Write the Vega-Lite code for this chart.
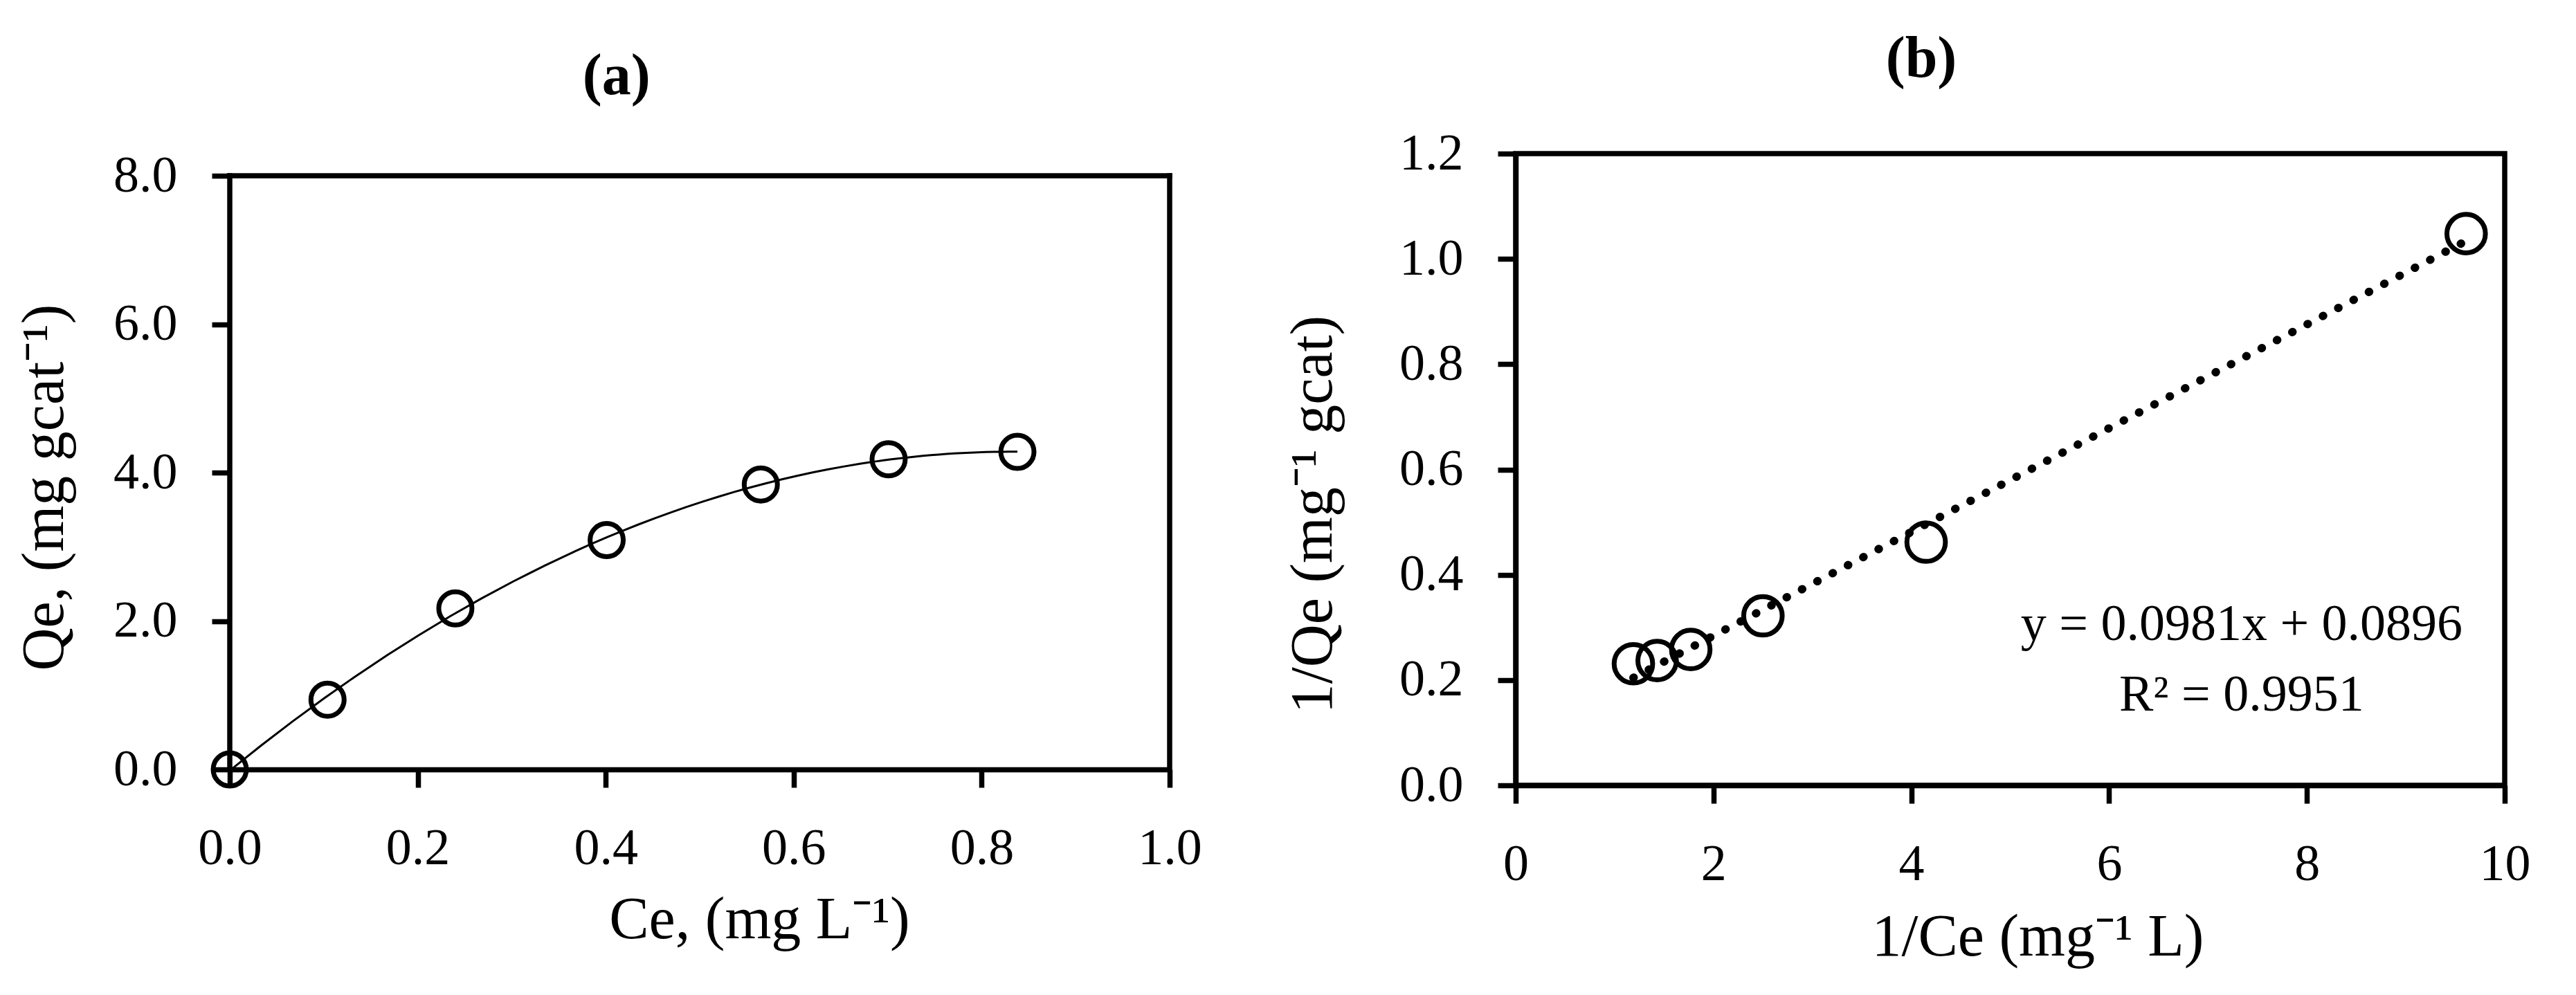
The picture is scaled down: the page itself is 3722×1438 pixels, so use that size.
{
  "$schema": "https://vega.github.io/schema/vega-lite/v6.json",
  "background": "white",
  "padding": {"left": 20, "top": 40, "right": 0, "bottom": 0},
  "columns": 2,
  "align": "none",
  "spacing": 113,
  "config": {
    "font": "Liberation Serif",
    "view": {"stroke": "black", "strokeWidth": 7.5},
    "axis": {
      "domainColor": "black", "domainWidth": 7.5,
      "tickColor": "black", "tickWidth": 7.5, "tickSize": 26,
      "grid": false,
      "labelColor": "black", "labelFont": "Liberation Serif", "labelFontSize": 74, "labelPadding": 52,
      "labelFlush": false, "labelOverlap": false,
      "titleColor": "black", "titleFont": "Liberation Serif", "titleFontSize": 86, "titleFontWeight": "normal"
    },
    "title": {"font": "Liberation Serif", "fontSize": 84, "fontWeight": "bold", "color": "black", "anchor": "middle", "frame": "bounds"}
  },
  "concat": [
    {
      "width": 1358,
      "height": 890,
      "view": {"stroke": null},
      "title": {"text": "(a)", "offset": 63, "dx": 12},
      "layer": [
        {
          "data": {"values": [
            {"Ce": 0.0, "Qe": 0.0},
            {"Ce": 0.104, "Qe": 0.94},
            {"Ce": 0.240, "Qe": 2.17},
            {"Ce": 0.401, "Qe": 3.09},
            {"Ce": 0.565, "Qe": 3.84},
            {"Ce": 0.701, "Qe": 4.18},
            {"Ce": 0.838, "Qe": 4.28}
          ]},
          "encoding": {
            "x": {"field": "Ce", "type": "quantitative", "scale": {"domain": [0, 1], "nice": false},
              "axis": {"title": "Ce, (mg L⁻¹)", "values": [0, 0.2, 0.4, 0.6, 0.8, 1.0], "format": ".1f",
                "titleX": 765, "titleY": 243, "titleBaseline": "alphabetic", "titleAlign": "center"}},
            "y": {"field": "Qe", "type": "quantitative", "scale": {"domain": [0, 8.2984], "nice": false, "zero": false},
              "axis": {"title": "Qe, (mg gcat⁻¹)", "values": [0, 2, 4, 6, 8], "format": ".1f", "labelPadding": 50, "domain": false,
                "titleX": -242, "titleY": 482, "titleAngle": -90, "titleBaseline": "alphabetic", "titleAlign": "center"}}
          },
          "layer": [
            {
              "transform": [{"regression": "Qe", "on": "Ce", "method": "poly", "order": 2}],
              "mark": {"type": "line", "color": "black", "strokeWidth": 3}
            },
            {
              "mark": {"type": "point", "shape": "circle", "filled": false, "size": 2300, "strokeWidth": 7, "color": "black", "opacity": 1}
            }
          ]
        },
        {
          "data": {"values": [{"edge": "top"}]},
          "mark": {"type": "rule", "color": "black", "strokeWidth": 7.5, "strokeCap": "square"},
          "encoding": {
            "x": {"datum": 0, "type": "quantitative"},
            "x2": {"datum": 1},
            "y": {"datum": 8, "type": "quantitative"}
          }
        },
        {
          "data": {"values": [{"edge": "left"}]},
          "mark": {"type": "rule", "color": "black", "strokeWidth": 7.5, "strokeCap": "square"},
          "encoding": {
            "x": {"datum": 0, "type": "quantitative"},
            "y": {"datum": 0, "type": "quantitative"},
            "y2": {"datum": 8}
          }
        },
        {
          "data": {"values": [{"edge": "right"}]},
          "mark": {"type": "rule", "color": "black", "strokeWidth": 7.5, "strokeCap": "square"},
          "encoding": {
            "x": {"datum": 1, "type": "quantitative"},
            "y": {"datum": 0, "type": "quantitative"},
            "y2": {"datum": 8}
          }
        }
      ]
    },
    {
      "width": 1429,
      "height": 913,
      "title": {"text": "(b)", "offset": 56, "dx": 21},
      "layer": [
        {
          "data": {"values": [
            {"inv_Ce": 1.19, "inv_Qe": 0.231},
            {"inv_Ce": 1.43, "inv_Qe": 0.237},
            {"inv_Ce": 1.77, "inv_Qe": 0.258},
            {"inv_Ce": 2.50, "inv_Qe": 0.322},
            {"inv_Ce": 4.15, "inv_Qe": 0.462},
            {"inv_Ce": 9.61, "inv_Qe": 1.048}
          ]},
          "encoding": {
            "x": {"field": "inv_Ce", "type": "quantitative", "scale": {"domain": [0, 10], "nice": false},
              "axis": {"title": "1/Ce (mg⁻¹ L)", "values": [0, 2, 4, 6, 8, 10], "format": "d",
                "titleX": 754, "titleY": 245, "titleBaseline": "alphabetic", "titleAlign": "center"}},
            "y": {"field": "inv_Qe", "type": "quantitative", "scale": {"domain": [0, 1.2], "nice": false},
              "axis": {"title": "1/Qe (mg⁻¹ gcat)", "values": [0, 0.2, 0.4, 0.6, 0.8, 1.0, 1.2], "format": ".1f", "labelPadding": 50,
                "titleX": -267, "titleY": 521, "titleAngle": -90, "titleBaseline": "alphabetic", "titleAlign": "center"}}
          },
          "layer": [
            {
              "transform": [{"regression": "inv_Qe", "on": "inv_Ce", "method": "linear"}],
              "mark": {"type": "line", "color": "black", "strokeWidth": 12, "strokeCap": "round", "strokeDash": [0.5, 24.5]}
            },
            {
              "mark": {"type": "point", "shape": "circle", "filled": false, "size": 3100, "strokeWidth": 7, "color": "black", "opacity": 1}
            }
          ]
        },
        {
          "data": {"values": [{"label": "y = 0.0981x + 0.0896"}]},
          "mark": {"type": "text", "fontSize": 74, "font": "Liberation Serif", "color": "black", "align": "center", "baseline": "alphabetic"},
          "encoding": {
            "x": {"datum": 7.34, "type": "quantitative"},
            "y": {"datum": 0.276, "type": "quantitative"},
            "text": {"field": "label", "type": "nominal"}
          }
        },
        {
          "data": {"values": [{"label": "R² = 0.9951"}]},
          "mark": {"type": "text", "fontSize": 74, "font": "Liberation Serif", "color": "black", "align": "center", "baseline": "alphabetic"},
          "encoding": {
            "x": {"datum": 7.34, "type": "quantitative"},
            "y": {"datum": 0.142, "type": "quantitative"},
            "text": {"field": "label", "type": "nominal"}
          }
        }
      ]
    }
  ]
}
